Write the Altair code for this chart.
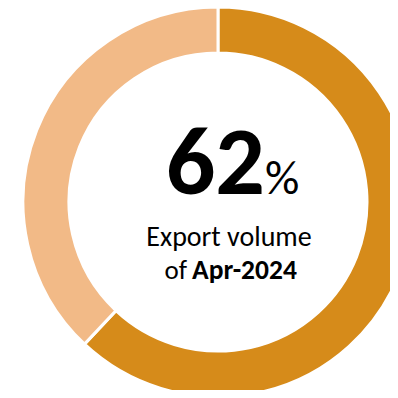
import altair as alt
import pandas as pd

categories = ["Export volume", "Remaining"]
values = [62, 38]
colors = ["#D68B1A", "#F2BA87"]
headline_value = "62"
headline_unit = "%"
line1 = "Export volume"
line2_prefix = "of"
line2_bold = "Apr-2024"

FONT = "Carlito, Calibri, Lato, sans-serif"

df = pd.DataFrame({"category": categories, "value": values, "order": [0, 1]})

arc = alt.Chart(df).mark_arc(
    outerRadius=195, innerRadius=149, stroke="white", strokeWidth=3
).encode(
    theta=alt.Theta("value:Q", stack=True),
    order=alt.Order("order:Q"),
    color=alt.Color("category:N", scale=alt.Scale(domain=categories, range=colors), legend=None),
    x=alt.value(210),
    y=alt.value(194),
)

def txt(s, x, y, size, weight="normal", align="center"):
    return alt.Chart(pd.DataFrame({"t": [s]})).mark_text(
        font=FONT, fontSize=size, fontWeight=weight, align=align,
        baseline="alphabetic", color="black"
    ).encode(text="t:N", x=alt.value(x), y=alt.value(y))

chart = alt.layer(
    arc,
    txt(headline_value, 257, 186, 98, "bold", "right"),
    txt(headline_unit, 257, 186, 48, "normal", "left"),
    txt(line1, 221, 238, 28),
    txt(line2_prefix, 179, 271, 27, "normal", "right"),
    txt(line2_bold, 184, 271, 27.5, "bold", "left"),
).properties(
    width=382, height=382,
    autosize=alt.AutoSizeParams(type="none"),
    padding=0,
).configure_view(stroke=None)

chart.save("out.html", embed_options={"renderer": "svg", "actions": False})
